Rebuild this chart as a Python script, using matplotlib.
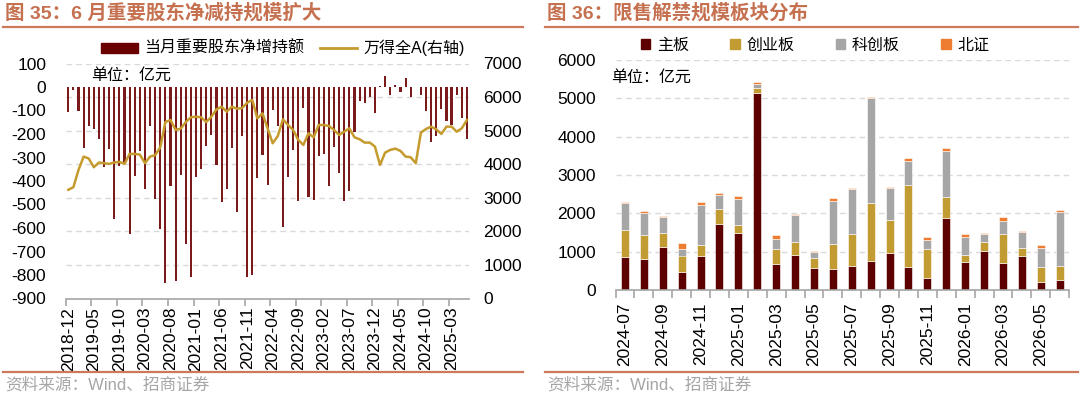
import matplotlib
matplotlib.use("Agg")
import matplotlib.pyplot as plt
import numpy as np
import pandas as pd
from matplotlib.patches import Patch
from matplotlib.lines import Line2D

plt.rcParams['font.family'] = ['Liberation Sans', 'Noto Sans CJK SC']
plt.rcParams['axes.unicode_minus'] = False

#--------------------------------------------
# donnees : graphique 35 (2018-12 -> 2025-06)
#--------------------------------------------
mois_35 = [p.strftime('%Y-%m') for p in pd.period_range('2018-12', '2025-06', freq='M')]

net_hold = [-108, -11, -104, -261, -165, -179, -220, -340, -264, -562,
            -335, -326, -627, -380, -274, -433, -167, -477, -603, -833,
            -421, -824, -376, -668, -810, -383, -349, -252, -203, -332,
            -488, -433, -260, -533, -209, -807, -801, -387, -288, -417,
            -99, -167, -597, -383, -270, -485, -89, -468, -482, -295,
            -285, -423, -255, -366, -487, -444, -193, -58, -70, -44,
            -111, 3, 47, -35, 10, -20, 37, -41, -2, -35,
            -102, -234, -208, -92, -145, -163, -34, -130, -220]

wind_a = [3238, 3317, 3832, 4228, 4168, 3911, 4050, 4030, 4010, 4050,
          4069, 4010, 4307, 4307, 4287, 4030, 4228, 4267, 4505, 5257,
          5317, 5020, 5060, 5257, 5400, 5416, 5396, 5257, 5416, 5634,
          5713, 5564, 5713, 5653, 5673, 5832, 5911, 5366, 5515, 5069,
          4624, 4842, 5337, 5168, 5020, 4723, 4574, 4921, 4802, 5168,
          5168, 5139, 5020, 4871, 4970, 5069, 4802, 4743, 4644, 4644,
          4525, 3980, 4347, 4426, 4465, 4396, 4228, 4208, 4030, 4941,
          5050, 5119, 5040, 4901, 5119, 5119, 4970, 5069, 5317]

#--------------------------------------------
# donnees : graphique 36 (2024-07 -> 2026-06)
#--------------------------------------------
mois_36 = [p.strftime('%Y-%m') for p in pd.period_range('2024-07', '2026-06', freq='M')]

zhuban = [850, 814, 1134, 459, 900, 1723, 1489, 5134, 667, 918, 580, 545,
          623, 745, 978, 589, 303, 1879, 736, 1030, 693, 874, 199, 260]
chuangye = [717, 615, 364, 441, 277, 390, 208, 130, 407, 337, 243, 667,
            840, 1523, 840, 2147, 771, 554, 182, 234, 779, 226, 398, 355]
kechuang = [701, 571, 415, 182, 1031, 363, 667, 121, 251, 693, 181, 1108,
            1169, 2728, 849, 641, 233, 1203, 459, 191, 329, 415, 511, 1428]
beizheng = [18, 60, 18, 147, 78, 61, 78, 44, 121, 26, 26, 78,
            35, 43, 26, 78, 87, 78, 78, 26, 112, 17, 61, 44]

c_title = '#C5704F'
c_rule = '#CD7A5C'
c_grid = '#D9D9D9'

fig = plt.figure(figsize=(10.8, 3.96), dpi=100)

def px(x, y):
    return x / 1080, 1 - y / 396

# titres, filets et sources
for x0, x1, titre in [(3, 523, '图 35：6 月重要股东净减持规模扩大'),
                      (545, 1078, '图 36：限售解禁规模板块分布')]:
    fig.text(*px(x0 + 2, 13), titre, fontsize=14, fontweight='bold', color=c_title, va='center')
    fig.add_artist(Line2D([x0 / 1080, x1 / 1080], [1 - 26.5 / 396] * 2, color=c_rule, lw=1.6))
    fig.add_artist(Line2D([x0 / 1080, x1 / 1080], [1 - 372 / 396] * 2, color=c_rule, lw=1.6))
    fig.text(*px(x0 + 2, 385), '资料来源：Wind、招商证券', fontsize=12, color='#A6A6A6', va='center')

#--------------------------------------------
# graphique 35
#--------------------------------------------
ax1 = fig.add_axes([65.75 / 1080, (396 - 298.5) / 396, 403.7 / 1080, 235 / 396])
ax2 = ax1.twinx()
x35 = np.arange(len(mois_35))
for k in range(1, 8):
    ax1.axhline(-900 + k * 1000 / 7, color=c_grid, lw=1, ls=(0, (4, 3)), zorder=0)
ax1.bar(x35, net_hold, width=0.42, color='#7B1A1A', zorder=2)
ax1.set_xlim(-0.5, len(mois_35) - 0.5)
ax1.set_ylim(-900, 100)
ax1.set_yticks(np.arange(-900, 101, 100))
ax1.set_xticks(x35[::5])
ax1.set_xticklabels(mois_35[::5])
ax1.set_xticks(np.arange(-0.5, len(mois_35), 5), minor=True)
ax1.tick_params(axis='x', which='major', length=0, pad=6, labelsize=12.5, labelrotation=90)
ax1.tick_params(axis='x', which='minor', length=5, color='#A6A6A6', width=1.2)
ax1.tick_params(axis='y', length=0, pad=14, labelsize=12.5)
for s in ['left', 'right', 'top']:
    ax1.spines[s].set_visible(False)
ax1.spines['bottom'].set_color('#A6A6A6')
ax1.spines['bottom'].set_linewidth(1.2)

ax2.plot(x35, wind_a, color='#C59B2E', lw=1.8, zorder=3)
ax2.set_ylim(0, 7000)
ax2.set_yticks(np.arange(0, 7001, 1000))
ax2.tick_params(axis='y', length=0, pad=10, labelsize=12.5)
for s in ['left', 'right', 'top', 'bottom']:
    ax2.spines[s].set_visible(False)

fig.text(*px(91, 75), '单位：亿元', fontsize=11.5, va='center')
fig.legend(handles=[Patch(color='#6B0000', label='当月重要股东净增持额'),
                    Line2D([], [], color='#C59B2E', lw=2, label='万得全A(右轴)')],
           loc='center', bbox_to_anchor=(283 / 1080, 1 - 48 / 396), ncol=2, frameon=False,
           fontsize=11.5, handlelength=2.3, handleheight=0.6, columnspacing=1.0, handletextpad=0.4)

#--------------------------------------------
# graphique 36
#--------------------------------------------
ax3 = fig.add_axes([615.5 / 1080, (396 - 290) / 396, 453.6 / 1080, 230 / 396])
x36 = np.arange(len(mois_36))
for v in range(1000, 6001, 1000):
    ax3.axhline(v, color=c_grid, lw=1, ls=(0, (4, 3)), zorder=0)
couleurs = ['#5C0000', '#C39B33', '#A6A6A6', '#EE7D31']
noms = ['主板', '创业板', '科创板', '北证']
bas = np.zeros(len(mois_36))
for serie, coul in zip([zhuban, chuangye, kechuang, beizheng], couleurs):
    ax3.bar(x36, serie, bottom=bas, width=0.42, color=coul, edgecolor='white', lw=0.4, zorder=2)
    bas = bas + np.array(serie)
ax3.set_xlim(-0.5, len(mois_36) - 0.5)
ax3.set_ylim(0, 6000)
ax3.set_yticks(np.arange(0, 6001, 1000))
ax3.set_xticks(x36[::2])
ax3.set_xticklabels(mois_36[::2])
ax3.set_xticks(np.arange(-0.5, len(mois_36), 1), minor=True)
ax3.tick_params(axis='x', which='major', length=0, pad=9, labelsize=12.5, labelrotation=90)
ax3.tick_params(axis='x', which='minor', length=6, color='#A6A6A6', width=1.2)
ax3.tick_params(axis='y', length=0, pad=14, labelsize=12.5)
for s in ['left', 'right', 'top']:
    ax3.spines[s].set_visible(False)
ax3.spines['bottom'].set_color('#A6A6A6')
ax3.spines['bottom'].set_linewidth(1.2)

fig.text(*px(611, 77), '单位：亿元', fontsize=11.5, va='center')
fig.legend(handles=[Patch(color=c, label=n) for c, n in zip(couleurs, noms)],
           loc='center', bbox_to_anchor=(815 / 1080, 1 - 45 / 396), ncol=4, frameon=False,
           fontsize=11.5, handlelength=0.6, handleheight=0.6, columnspacing=2.6, handletextpad=0.4)

fig.savefig('out.png', dpi=100)
